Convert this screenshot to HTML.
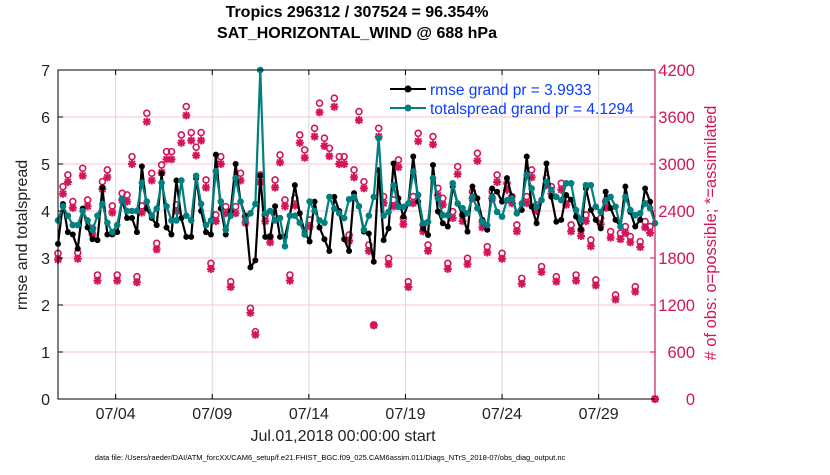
<!DOCTYPE html>
<html><head><meta charset="utf-8"><style>
body{margin:0;background:#fff;}
svg text{font-family:"Liberation Sans",sans-serif;}
</style></head><body>
<svg id="chart" width="830" height="470" viewBox="0 0 830 470" xmlns="http://www.w3.org/2000/svg">
<rect width="830" height="470" fill="#fff"/>
<g id="grid"></g>
<g id="obs"></g>
<g id="lines"></g>
<g id="axes"></g>
<text x="357" y="17" text-anchor="middle" font-size="16" font-weight="bold">Tropics 296312 / 307524 = 96.354%</text>
<text x="357" y="38" text-anchor="middle" font-size="16" font-weight="bold">SAT_HORIZONTAL_WIND @ 688 hPa</text>
<text x="343" y="441" text-anchor="middle" font-size="16" fill="#222">Jul.01,2018 00:00:00 start</text>
<text x="330" y="460" text-anchor="middle" font-size="7.5" fill="#000">data file: /Users/raeder/DAI/ATM_forcXX/CAM6_setup/f.e21.FHIST_BGC.f09_025.CAM6assim.011/Diags_NTrS_2018-07/obs_diag_output.nc</text>
<text transform="translate(27,235) rotate(-90)" text-anchor="middle" font-size="16" fill="#222">rmse and totalspread</text>
<text transform="translate(716,233) rotate(-90)" text-anchor="middle" font-size="16.5" fill="#d4145a"># of obs: o=possible; *=assimilated</text>
<g>
<g>
<line x1="390" y1="89" x2="426" y2="89" stroke="#000" stroke-width="2"/><circle cx="408" cy="89" r="3.5" fill="#000"/>
<text x="430" y="95" font-size="15.5" fill="#0a3cff">rmse grand pr = 3.9933</text></g>
<g>
<line x1="390" y1="108" x2="426" y2="108" stroke="#008080" stroke-width="2"/><circle cx="408" cy="108" r="3.5" fill="#008080"/>
<text x="430" y="114" font-size="15.5" fill="#0a3cff">totalspread grand pr = 4.1294</text></g>
</g>
</svg>
<script>
const rmse = [3.3,4.15,3.55,3.5,3.2,4.05,3.65,3.4,3.38,4.5,3.5,3.5,3.55,4.25,3.85,3.85,3.55,4.95,4.05,3.85,3.7,4.8,3.65,3.5,4.65,3.85,3.45,3.45,4.7,4.0,3.55,
3.5,5.2,4.05,3.5,4.0,5.0,4.2,3.9,2.8,2.95,4.75,3.45,3.45,4.1,3.45,3.45,3.9,4.55,3.95,3.55,3.35,4.2,3.65,3.4,3.15,4.3,4.0,3.4,3.15,
4.38,4.1,3.56,3.52,2.92,4.87,3.38,3.63,5.01,4.27,3.88,4.16,5.16,4.2,3.63,3.49,4.98,3.99,3.74,3.67,4.52,4.16,3.91,3.56,4.52,4.27,3.81,3.6,4.48,4.41,
4.2,4.7,4.3,3.95,4.02,5.16,4.09,3.74,4.24,5.01,4.3,3.77,3.81,4.34,4.24,3.88,3.6,4.48,4.02,3.81,3.63,4.41,4.06,3.81,3.67,4.52,3.98,3.67,3.81,4.48,4.2,3.74];
const spread = [3.8,4.1,3.9,3.7,3.7,4.0,3.8,3.6,3.9,4.15,3.75,3.55,3.7,4.25,4.0,4.0,4.0,4.6,4.2,3.9,4.05,4.6,4.1,3.8,3.8,4.65,3.9,3.8,4.75,4.15,3.7,
3.8,4.85,4.2,3.6,3.9,4.7,4.2,3.8,3.95,4.15,7.0,3.95,4.0,3.8,3.85,3.25,3.9,3.9,3.75,3.5,4.2,4.0,3.8,3.75,4.3,4.05,3.95,3.85,4.25,
4.3,4.1,3.6,3.9,4.3,5.55,3.9,3.98,4.55,4.09,4.09,4.16,4.84,4.34,3.74,3.77,4.7,4.27,3.91,3.91,4.59,4.16,4.06,3.95,4.3,4.06,3.77,3.7,4.3,3.98,
3.88,4.23,4.27,3.95,4.16,4.77,4.48,4.09,4.23,4.62,4.45,4.3,4.23,4.59,4.59,4.02,3.81,4.55,4.55,4.09,3.98,4.23,4.3,4.09,3.67,4.3,4.02,3.91,3.95,4.16,4.06,3.74];
const possible = [1860,2711,2860,2520,1868,2945,2541,2179,1583,2775,2924,2464,1583,2626,2605,3094,1562,2464,3648,2882,1988,2988,3158,3158,2477,3371,3733,3401,3214,3401,2797,
1732,2350,3094,2456,1498,2456,2882,2329,1158,860,2860,2350,2073,2797,3116,2541,1583,2562,3371,3180,2286,3456,3776,3329,3201,3840,3094,3094,2094,
2924,3669,2775,1967,945,3456,2584,1796,2541,3052,2307,1498,2584,3392,2222,1967,3350,2690,2562,1732,2392,2967,2350,1796,2648,3137,2265,1945,2648,2860,
1860,2754,2584,2222,1540,2584,2924,2477,1690,2818,2711,1562,2754,2562,2222,1583,2158,2350,2031,1520,2307,2520,2137,1328,2116,2201,2073,1434,2009,2265,2201,0];
const assimilated = [1780,2620,2770,2440,1790,2850,2460,2100,1510,2680,2830,2380,1510,2540,2520,3000,1490,2380,3540,2790,1910,2890,3060,3060,2400,3270,3620,3300,3110,3300,2700,
1660,2270,3000,2370,1430,2370,2790,2250,1100,820,2770,2270,2000,2700,3020,2460,1510,2470,3270,3080,2200,3350,3660,3230,3100,3730,3000,3000,2020,
2830,3560,2690,1890,940,3350,2500,1720,2460,2960,2230,1430,2500,3290,2140,1890,3250,2600,2480,1660,2310,2870,2270,1720,2560,3040,2190,1870,2560,2770,
1790,2670,2500,2140,1470,2500,2830,2400,1620,2730,2620,1500,2670,2480,2140,1510,2080,2270,1950,1450,2230,2440,2060,1270,2040,2120,2000,1370,1940,2190,2120,0];
const leftTicks = [0,1,2,3,4,5,6,7];
const rightTicks = [0,600,1200,1800,2400,3000,3600,4200];
const dateTickDays = [3,8,13,18,23,28];
const dateTickLabels = ["07/04","07/09","07/14","07/19","07/24","07/29"];

const X0=58,X1=655,Y0=399,Y1=70;
const NS="http://www.w3.org/2000/svg";
function xi(i){return X0+(X1-X0)*i/(rmse.length-1);}
function xd(d){return 57.7+d*19.32;}
function yl(v){return Y0-(Y0-Y1)*v/7;}
function yr(v){return Y0-(Y0-Y1)*v/4200;}
function mk(tag,attrs,parent){const e=document.createElementNS(NS,tag);for(const k in attrs)e.setAttribute(k,attrs[k]);parent.appendChild(e);return e;}
const grid=document.getElementById('grid'),axes=document.getElementById('axes'),obs=document.getElementById('obs'),lines=document.getElementById('lines');
const CR="#d4145a";
leftTicks.forEach(v=>{
  if(v>0&&v<7){const g=mk('line',{x1:X0,x2:X1,y1:yl(v),y2:yl(v),stroke:"#f4c6d6","stroke-width":1},grid);
  
  }
  const t=mk('text',{x:X0-8,y:yl(v)+6,"text-anchor":"end","font-size":16,fill:"#222"},axes);t.textContent=v;
  
  
  mk('line',{x1:X0,x2:X0+5,y1:yl(v),y2:yl(v),stroke:"#000"},axes);
});
rightTicks.forEach(v=>{
  const t=mk('text',{x:695,y:yr(v)+6,"text-anchor":"end","font-size":16.5,fill:CR},axes);t.textContent=v;
  
  
  mk('line',{x1:X1-5,x2:X1,y1:yr(v),y2:yr(v),stroke:CR},axes);
});
dateTickDays.forEach((d,k)=>{
  const g=mk('line',{x1:xd(d),x2:xd(d),y1:Y1,y2:Y0,stroke:"#d9d9d9","stroke-width":1},grid);
  
  
  mk('line',{x1:xd(d),x2:xd(d),y1:Y0,y2:Y0-5,stroke:"#000"},axes);
  mk('line',{x1:xd(d),x2:xd(d),y1:Y1,y2:Y1+5,stroke:"#000"},axes);
  const t=mk('text',{x:xd(d),y:419,"text-anchor":"middle","font-size":16,fill:"#222"},axes);t.textContent=dateTickLabels[k];
  
  
});
mk('path',{d:`M${X1},${Y1}H${X0}V${Y0}H${X1}`,fill:"none",stroke:"#000","stroke-width":1},axes);
mk('line',{x1:X1,x2:X1,y1:Y1,y2:Y0,stroke:CR,"stroke-width":1.2},axes);
possible.forEach((p,i)=>{
  const a=assimilated[i],x=xi(i),y=yr(a),s=4;
  const g=mk('g',{stroke:CR,"stroke-width":2},obs);
  
  
  mk('line',{x1:x-s,x2:x+s,y1:y,y2:y},g);mk('line',{x1:x,x2:x,y1:y-s,y2:y+s},g);
  mk('line',{x1:x-3,x2:x+3,y1:y-3,y2:y+3},g);mk('line',{x1:x-3,x2:x+3,y1:y+3,y2:y-3},g);
  const c=mk('circle',{cx:x,cy:yr(p),r:3,fill:"none",stroke:CR,"stroke-width":1.6},obs);
  
  
});
function series(vals,color,r,name){
  const pl=mk('polyline',{points:vals.map((v,i)=>xi(i)+","+yl(v)).join(" "),fill:"none",stroke:color,"stroke-width":2.2,"stroke-linejoin":"round"},lines);
  
  
  vals.forEach((v,i)=>{const c=mk('circle',{cx:xi(i),cy:yl(v),r:r,fill:color},lines);
    
    });
}
series(rmse,"#000",3,'rmse');
series(spread,"#008080",3.3,'totalspread');
</script>
</body></html>
